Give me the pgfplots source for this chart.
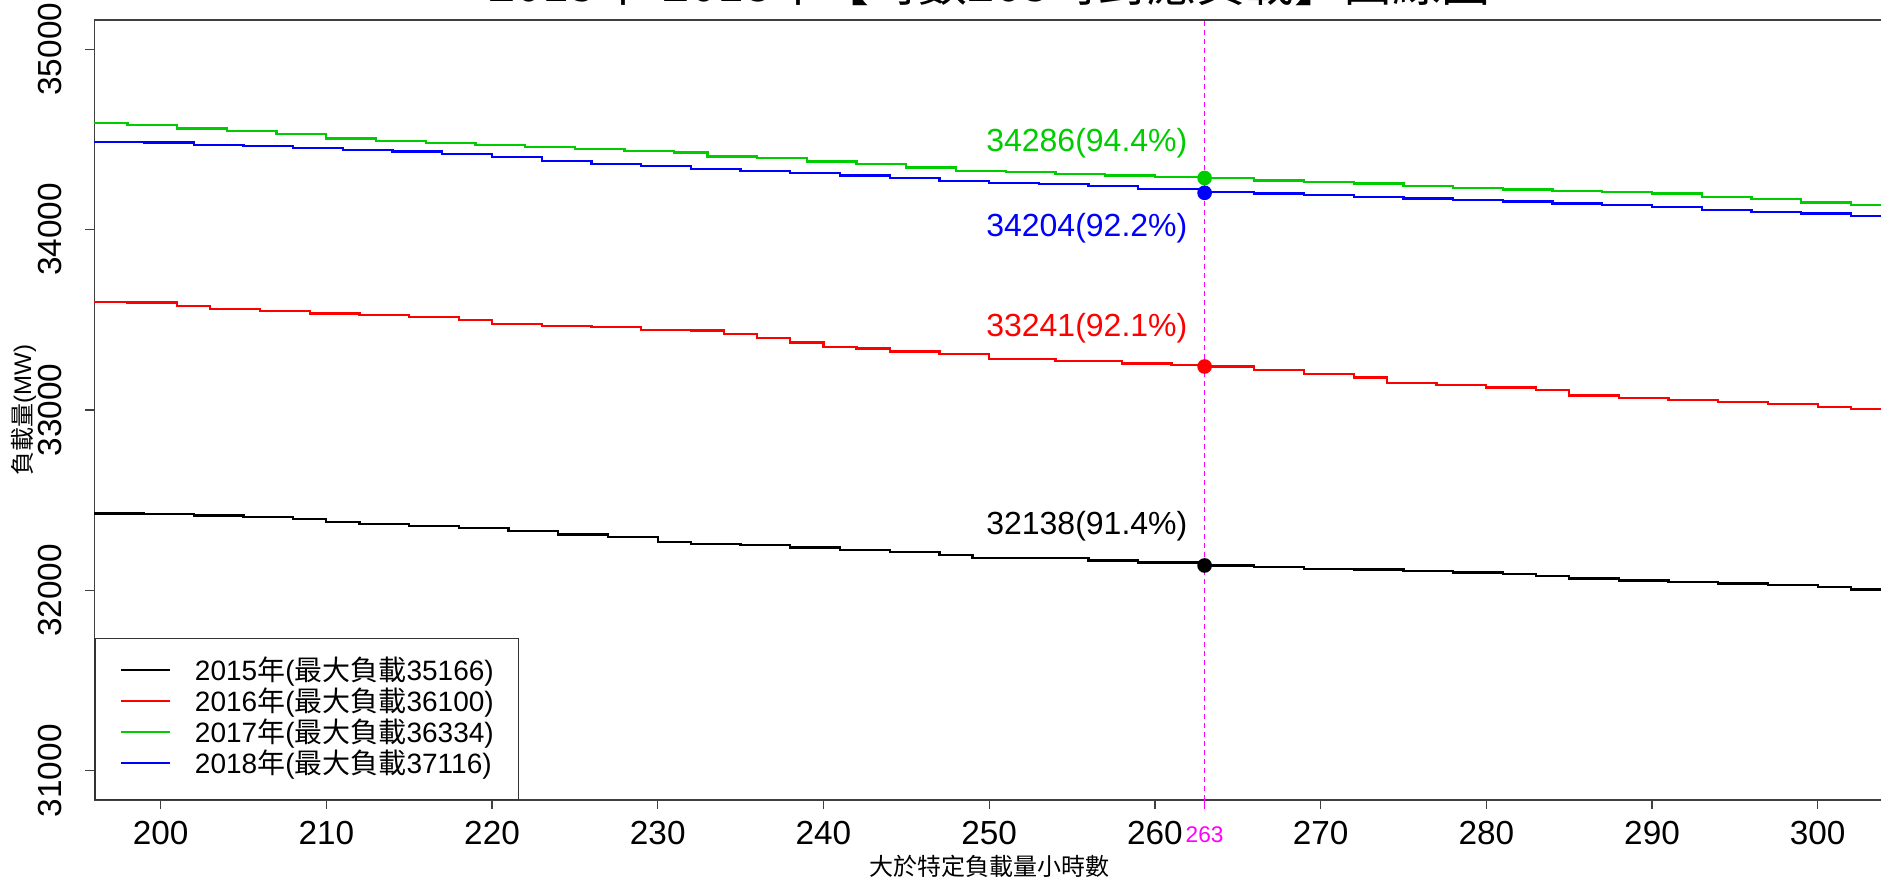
\documentclass[border=0pt]{standalone}
\usepackage{fontspec}
\setmainfont{Liberation Sans}
\newfontfamily\cjk{Noto Sans CJK TC}
\usepackage{pgfplots}
\usepackage{pgfplotstable}
\pgfplotsset{compat=1.18}
\definecolor{rgreen}{RGB}{0,205,0}
\definecolor{rblue}{RGB}{0,0,255}
\definecolor{rred}{RGB}{255,0,0}
\definecolor{rmag}{RGB}{255,0,255}

\pgfplotstableread{
x y
196 32427
199 32422
202 32415
205 32408
208 32395
210 32380
212 32368
215 32358
218 32345
221 32330
224 32310
227 32295
230 32270
232 32258
235 32250
238 32238
241 32225
244 32212
247 32195
249 32180
252 32178
256 32165
259 32155
263 32138
266 32130
269 32120
272 32115
275 32108
278 32100
281 32092
283 32080
285 32065
288 32055
291 32045
294 32038
297 32030
300 32018
302 32005
304 32000
}\yrA

\pgfplotstableread{
x y
196 33600
198 33595
201 33575
203 33560
206 33550
209 33535
212 33525
215 33517
218 33500
220 33475
223 33465
226 33460
229 33445
232 33440
234 33420
236 33400
238 33375
240 33350
242 33340
244 33325
247 33310
250 33281
254 33272
258 33258
261 33250
263 33241
266 33220
269 33200
272 33180
274 33150
277 33140
280 33125
283 33110
285 33080
288 33065
291 33055
294 33045
297 33035
300 33015
302 33005
304 32993
}\yrB

\pgfplotstableread{
x y
196 34590
198 34578
201 34560
204 34548
207 34530
210 34505
213 34492
216 34480
219 34470
222 34458
225 34445
228 34437
231 34428
233 34405
236 34396
239 34378
242 34362
245 34345
248 34325
251 34318
254 34310
257 34300
260 34293
263 34286
266 34272
269 34262
272 34255
275 34240
278 34230
281 34222
284 34215
287 34208
290 34200
293 34180
296 34168
299 34150
302 34135
304 34128
}\yrC

\pgfplotstableread{
x y
196 34486
199 34482
202 34470
205 34463
208 34452
211 34440
214 34432
217 34420
220 34403
223 34380
226 34365
229 34352
232 34335
235 34325
238 34315
241 34300
244 34285
247 34270
250 34260
253 34252
256 34240
259 34225
263 34209
266 34200
269 34190
272 34180
275 34172
278 34165
281 34155
284 34145
287 34135
290 34125
293 34110
296 34098
299 34090
302 34075
304 34069
}\yrD

\begin{document}
\begin{tikzpicture}
\path[use as bounding box] (-28.3pt,-24.3pt) rectangle (536pt,240pt);
\begin{axis}[
  scale only axis,
  width=536.9pt, height=234pt,
  xmin=196, xmax=304, ymin=30838, ymax=35162,
  clip=false,
  axis line style={draw=black!75, line width=0.4pt},
  every tick/.style={draw=black!75, line width=0.4pt},
  tick align=outside,
  tick pos=left,
  major tick length=2.7pt,
  xtick={200,210,...,300},
  ytick={31000,32000,...,35000},
  scaled ticks=false,
  /pgf/number format/assume math mode=true,
  /pgf/number format/set thousands separator={},
  xticklabel style={font=\fontsize{10}{11}\selectfont},
  yticklabel style={font=\fontsize{10}{11}\selectfont, xshift=-3.5pt, rotate=90, anchor=south},
  extra x ticks={263},
  extra x tick labels={263},
  extra x tick style={
    xticklabel style={text=rmag, font=\fontsize{6.8}{7}\selectfont, yshift=-1.9pt},
    every tick/.style={draw=rmag, line width=0.3pt}},
  xlabel={\cjk 大於特定負載量小時數},
  xlabel style={font=\fontsize{7.2}{8}\selectfont, at={(axis description cs:0.5,-0.0846)}, anchor=center},
  ylabel={{\cjk 負載量}(MW)},
  ylabel style={font=\fontsize{7.2}{8}\selectfont, at={(axis description cs:-0.0395,0.5)}, anchor=center},
  legend cell align=left,
  legend style={at={(0,0)}, anchor=south west, draw=black!80, line width=0.4pt,
    font=\fontsize{8.4}{9}\selectfont,
    inner xsep=7.4pt, inner ysep=6pt, column sep=7.2pt, row sep=1pt,
    nodes={inner sep=0pt, text height=6.5pt, text depth=1.8pt, anchor=base west}},
  legend image code/.code={\draw[#1, line width=0.7pt] (0pt,3pt) -- (14.7pt,3pt);},
]
\addplot[const plot, black, line width=0.7pt] table[x=x,y=y] {\yrA};
\addlegendentry{2015{\cjk 年}({\cjk 最大負載}35166)}
\addplot[const plot, rred, line width=0.7pt] table[x=x,y=y] {\yrB};
\addlegendentry{2016{\cjk 年}({\cjk 最大負載}36100)}
\addplot[const plot, rgreen, line width=0.7pt] table[x=x,y=y] {\yrC};
\addlegendentry{2017{\cjk 年}({\cjk 最大負載}36334)}
\addplot[const plot, rblue, line width=0.7pt] table[x=x,y=y] {\yrD};
\addlegendentry{2018{\cjk 年}({\cjk 最大負載}37116)}

\draw[rmag, line width=0.3pt, dash pattern=on 1.5pt off 1.2pt] (axis cs:263,30838) -- (axis cs:263,35162);

\addplot[only marks, mark=*, mark size=2pt, black, forget plot] coordinates {(263,32138)};
\addplot[only marks, mark=*, mark size=2pt, rred, forget plot] coordinates {(263,33241)};
\addplot[only marks, mark=*, mark size=2pt, rgreen, forget plot] coordinates {(263,34286)};
\addplot[only marks, mark=*, mark size=2pt, rblue, forget plot] coordinates {(263,34204)};

\node[anchor=east, inner sep=0pt, text=rgreen, font=\fontsize{9.6}{10}\selectfont] at (axis cs:262.0,34480) {34286(94.4\%)};
\node[anchor=east, inner sep=0pt, text=rblue, font=\fontsize{9.6}{10}\selectfont] at (axis cs:262.0,34010) {34204(92.2\%)};
\node[anchor=east, inner sep=0pt, text=rred, font=\fontsize{9.6}{10}\selectfont] at (axis cs:262.0,33451) {33241(92.1\%)};
\node[anchor=east, inner sep=0pt, text=black, font=\fontsize{9.6}{10}\selectfont] at (axis cs:262.0,32354) {32138(91.4\%)};

\node[anchor=base, font=\cjk\fontsize{14.7}{15}\selectfont] at (rel axis cs:0.5,1) [yshift=5.5pt] {2015年-2018年【時數263時對應負載】曲線圖};
\end{axis}
\end{tikzpicture}
\end{document}
